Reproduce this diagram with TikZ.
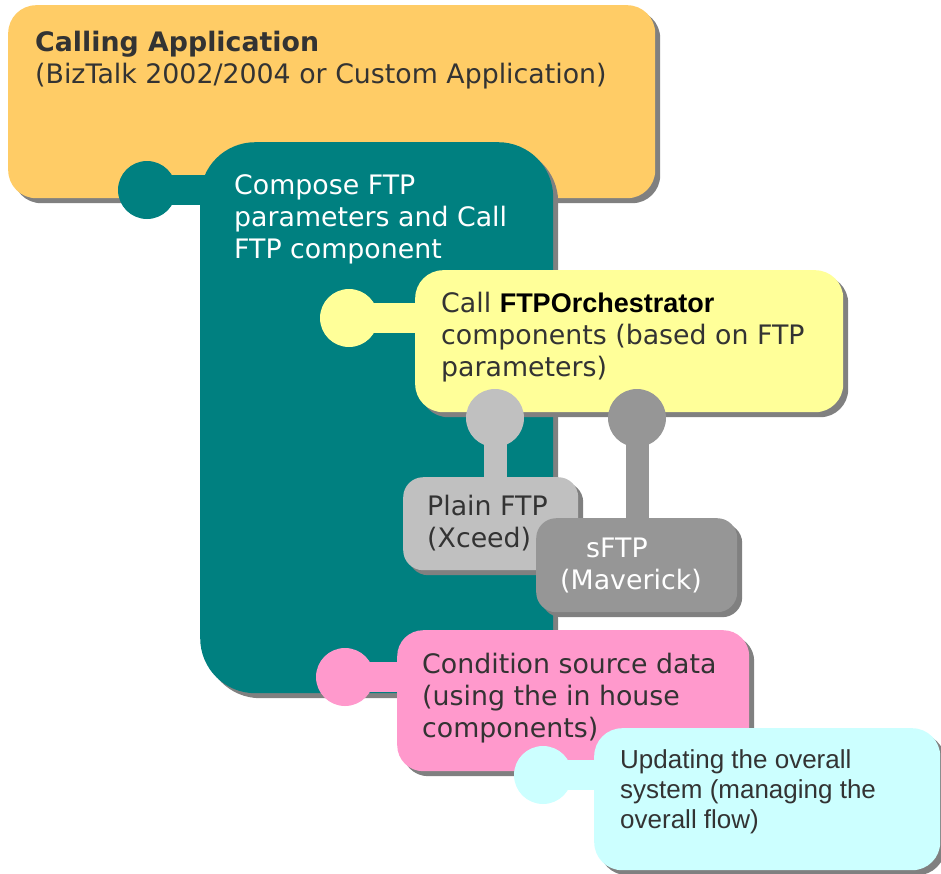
\documentclass[tikz,border=0pt]{standalone}
\usepackage{fontspec}
\setmainfont{DejaVu Sans}
\newfontfamily\arialfont{Liberation Sans}
\usetikzlibrary{shadows}
\definecolor{appcol}{HTML}{FFCC66}
\definecolor{composecol}{HTML}{008080}
\definecolor{orchcol}{HTML}{FFFF99}
\definecolor{plaincol}{HTML}{C0C0C0}
\definecolor{sftpcol}{HTML}{969696}
\definecolor{condcol}{HTML}{FF99CC}
\definecolor{updcol}{HTML}{CCFFFF}
\definecolor{shadecol}{HTML}{808080}
\definecolor{inkcol}{HTML}{333333}
\newcommand{\boxtext}[3]{\parbox[t][#2][t]{#1}{\strut#3}}
\begin{document}
\begin{tikzpicture}[x=1pt,y=-1pt,font=\fontsize{26.8}{32}\selectfont,
  card/.style={rounded corners=28pt,inner sep=0pt,anchor=north west,text=inkcol,
    drop shadow={shadow xshift=5pt,shadow yshift=-5pt,fill=shadecol,opacity=1}},
  ball/.style={circle,inner sep=0pt,minimum size=58pt},
  bar/.style={line width=30pt},
  stem/.style={line width=23pt}]
\useasboundingbox (0,0) rectangle (941,873);
\node[card,fill=appcol,inner xsep=27pt,inner ysep=23.6pt] (app) at (8,5)
  {\boxtext{593pt}{145.8pt}{\textbf{Calling Application}\\(BizTalk 2002/2004 or Custom Application)}};
\node[card,rounded corners=55pt,fill=composecol,text=white,inner xsep=34pt,inner ysep=29.6pt] (compose) at (200,142)
  {\boxtext{285pt}{491.8pt}{Compose FTP\\parameters and Call\\FTP component}};
\node[ball,fill=composecol] (composeball) at (147,190) {};
\draw[bar,composecol] (composeball.center) -- ([xshift=20pt]composeball.center -| compose.west);
\node[card,fill=orchcol,inner xsep=26pt,inner ysep=19.6pt] (orch) at (415,270)
  {\boxtext{376pt}{102.8pt}{Call {\arialfont\fontsize{27}{32}\selectfont\bfseries\color{black}FTPOrchestrator}\\components (based on FTP\\parameters)}};
\node[ball,fill=orchcol] (orchball) at (349,318) {};
\draw[bar,orchcol] (orchball.center) -- ([xshift=10pt]orchball.center -| orch.west);
\node[card,rounded corners=20pt,fill=plaincol,inner xsep=24pt,inner ysep=15.6pt] (plain) at (403,477)
  {\boxtext{127pt}{61.8pt}{Plain FTP\\(Xceed)}};
\node[card,rounded corners=20pt,fill=sftpcol,text=white,inner xsep=24pt,inner ysep=16.6pt] (sftp) at (536,518)
  {\boxtext{153pt}{60.8pt}{\hspace*{26pt}sFTP\\(Maverick)}};
\node[ball,fill=plaincol] (plainball) at (495,418) {};
\node[ball,fill=sftpcol] (sftpball) at (637,418) {};
\draw[stem,plaincol] (plainball.center) -- (plainball.center |- plain.north);
\draw[stem,sftpcol] (sftpball.center) -- (sftpball.center |- sftp.north);
\node[card,rounded corners=26pt,fill=condcol,inner xsep=25pt,inner ysep=20.6pt] (cond) at (397,630)
  {\boxtext{302pt}{99.8pt}{Condition source data\\(using the in house\\components)}};
\node[ball,fill=condcol] (condball) at (345,677) {};
\draw[bar,condcol] (condball.center) -- ([xshift=10pt]condball.center -| cond.west);
\node[card,fill=updcol,inner xsep=26pt,inner ysep=19pt,font=\arialfont\fontsize{26}{30}\selectfont] (upd) at (594,728)
  {\boxtext{294pt}{104pt}{Updating the overall\\system (managing the\\overall flow)}};
\node[ball,fill=updcol] (updball) at (543,775) {};
\draw[bar,updcol] (updball.center) -- ([xshift=10pt]updball.center -| upd.west);
\end{tikzpicture}
\end{document}
